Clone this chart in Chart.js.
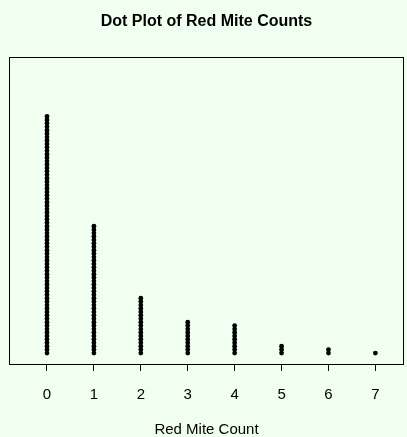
<!DOCTYPE html>
<html>
<head>
<meta charset="utf-8">
<script src="https://cdn.jsdelivr.net/npm/chart.js@4/dist/chart.umd.min.js"></script>
<style>
  html, body { margin: 0; padding: 0; background: #F0FFF0; }
  #wrap { width: 407px; height: 437px; }
</style>
</head>
<body>
<div id="wrap"><canvas id="c" width="407" height="437"></canvas></div>
<script>
// Red mite counts per leaf (0..7) and how many leaves had each count
const miteCounts = [0, 1, 2, 3, 4, 5, 6, 7];
const leafFrequency = [70, 38, 17, 10, 9, 3, 2, 1];
const tickLabels = ['0', '1', '2', '3', '4', '5', '6', '7'];

// Stack one dot per leaf above its count
const dots = [];
miteCounts.forEach((c, k) => {
  for (let i = 0; i < leafFrequency[k]; i++) dots.push({ x: c, y: i });
});

const bgPlugin = {
  id: 'bg',
  beforeDraw(chart) {
    const ctx = chart.ctx;
    ctx.save();
    ctx.fillStyle = '#F0FFF0';
    ctx.fillRect(0, 0, chart.width, chart.height);
    ctx.restore();
  }
};

const boxPlugin = {
  id: 'box',
  afterDatasetsDraw(chart) {
    const a = chart.chartArea, ctx = chart.ctx;
    ctx.save();
    ctx.strokeStyle = '#000';
    ctx.lineWidth = 1;
    ctx.strokeRect(Math.round(a.left) + 0.5, Math.round(a.top) + 0.5,
                   Math.round(a.right - a.left) - 1, Math.round(a.bottom - a.top));
    ctx.restore();
  }
};

const FONT = 'Liberation Sans, Arial, sans-serif';

new Chart(document.getElementById('c'), {
  type: 'scatter',
  data: {
    datasets: [{
      data: dots,
      pointRadius: 2.4,
      pointBackgroundColor: '#000',
      pointBorderColor: '#000',
      pointBorderWidth: 0,
      pointHoverRadius: 2.4
    }]
  },
  plugins: [bgPlugin, boxPlugin],
  options: {
    responsive: false,
    animation: false,
    events: [],
    layout: { padding: { left: 9, right: 3, top: 0, bottom: 0 } },
    plugins: {
      legend: { display: false },
      tooltip: { enabled: false },
      title: {
        display: true,
        text: 'Dot Plot of Red Mite Counts',
        color: '#000',
        font: { family: FONT, size: 16, weight: 'bold', lineHeight: 1.2 },
        padding: { top: 12, bottom: 26 }
      }
    },
    scales: {
      x: {
        type: 'linear',
        min: -0.81,
        max: 7.61,
        afterBuildTicks(scale) {
          scale.ticks = miteCounts.map(v => ({ value: v }));
        },
        afterFit(scale) { scale.height = 73; },
        ticks: {
          color: '#000',
          font: { family: FONT, size: 15 },
          padding: 15,
          maxRotation: 0,
          callback: (v) => tickLabels[miteCounts.indexOf(v)]
        },
        grid: {
          drawOnChartArea: false,
          drawTicks: true,
          tickLength: 7,
          color: '#000'
        },
        border: { display: false },
        title: {
          display: true,
          text: 'Red Mite Count',
          color: '#000',
          font: { family: FONT, size: 15 },
          padding: { top: 0, bottom: -2 }
        }
      },
      y: {
        display: false,
        min: -3.2,
        max: 86.3
      }
    }
  }
});
</script>
</body>
</html>
